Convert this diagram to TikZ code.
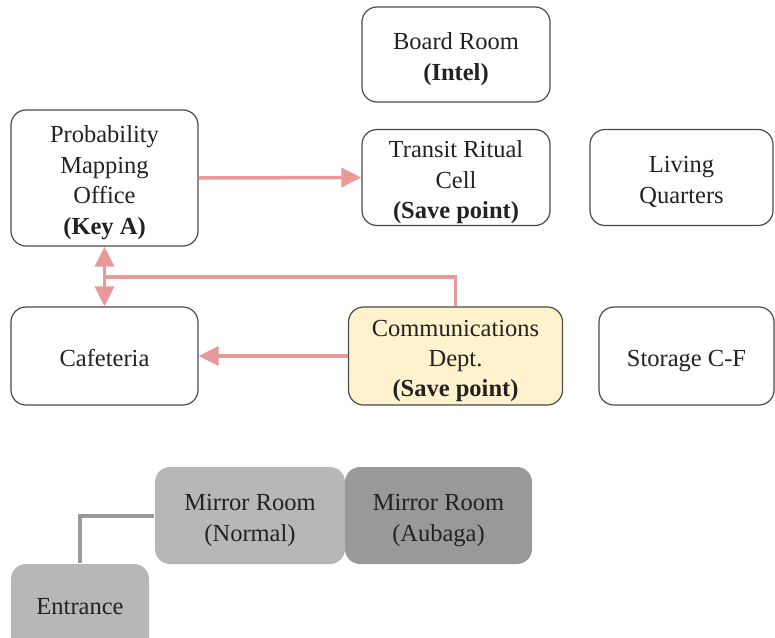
\documentclass[tikz,border=0pt]{standalone}
\usepackage{fontspec}
\setmainfont{Liberation Serif}
\usetikzlibrary{arrows.meta}
\definecolor{pinkline}{HTML}{EA9999}
\definecolor{boxline}{HTML}{4A4A4A}
\definecolor{txt}{HTML}{222222}
\definecolor{saveyellow}{HTML}{FFF2CC}
\definecolor{lightgray}{HTML}{B7B7B7}
\definecolor{darkgray}{HTML}{999999}
\definecolor{connectgray}{HTML}{999999}
\newcommand\roomtext[1]{\raisebox{-4.5pt}[\height][\depth]{\begin{tabular}{@{}c@{}}#1\end{tabular}}}
\tikzset{
  room/.style={draw=boxline, line width=1.2pt, rounded corners=15pt, fill=white,
    text=txt, inner sep=0pt,
    font=\fontsize{24.5}{30.4}\selectfont},
  grayroom/.style={room, draw=none},
  link/.style={draw=pinkline, line width=3.5pt, -{Triangle[length=20pt,width=19pt]}},
  plain/.style={draw=pinkline, line width=3.5pt},
  graylink/.style={draw=connectgray, line width=4pt}
}
\begin{document}
\begin{tikzpicture}[x=1pt,y=-1pt]
\clip (0,0) rectangle (775,637);
\fill[white] (0,0) rectangle (775,637);
\node[room, minimum width=188pt, minimum height=95pt] (board) at (456,54.5) {\roomtext{Board Room\\\textbf{(Intel)}}};
\node[room, minimum width=187pt, minimum height=136pt] (prob) at (104.5,178) {\roomtext{Probability\\Mapping\\Office\\\textbf{(Key A)}}};
\node[room, minimum width=188pt, minimum height=96pt] (transit) at (456,177.5) {\roomtext{Transit Ritual\\Cell\\\textbf{(Save point)}}};
\node[room, minimum width=183pt, minimum height=96pt] (living) at (681.5,177.5) {\roomtext{Living\\Quarters}};
\node[room, minimum width=187pt, minimum height=98pt] (caf) at (104.5,356) {\roomtext{Cafeteria}};
\node[room, fill=saveyellow, minimum width=214pt, minimum height=98pt] (comm) at (455.5,356) {\roomtext{Communications\\Dept.\\\textbf{(Save point)}}};
\node[room, minimum width=175pt, minimum height=98pt] (storage) at (686.5,356) {\roomtext{Storage C-F}};
\node[grayroom, fill=lightgray, minimum width=190pt, minimum height=97pt] (mirrorN) at (250,515.5) {\roomtext{Mirror Room\\(Normal)}};
\node[grayroom, fill=darkgray, minimum width=187pt, minimum height=97pt] (mirrorA) at (438.5,515.5) {\roomtext{Mirror Room\\(Aubaga)}};
\node[grayroom, fill=lightgray, minimum width=138pt, minimum height=100pt] (entrance) at (80,614) {};
\node[text=txt, inner sep=0pt, font=\fontsize{24.5}{30.4}\selectfont] (entlabel) at (80,604) {\roomtext{Entrance}};
\coordinate (junction) at (104.5,277);
\draw[link] (prob.east) -- (transit.west);
\draw[link] (comm.west) -- (caf.east);
\draw[plain] (comm.north) |- (junction);
\draw[link] (junction) -- (prob.south);
\draw[link] (junction) -- (caf.north);
\draw[graylink] (entrance.north -| 80,0) |- (mirrorN.west);
\end{tikzpicture}
\end{document}
